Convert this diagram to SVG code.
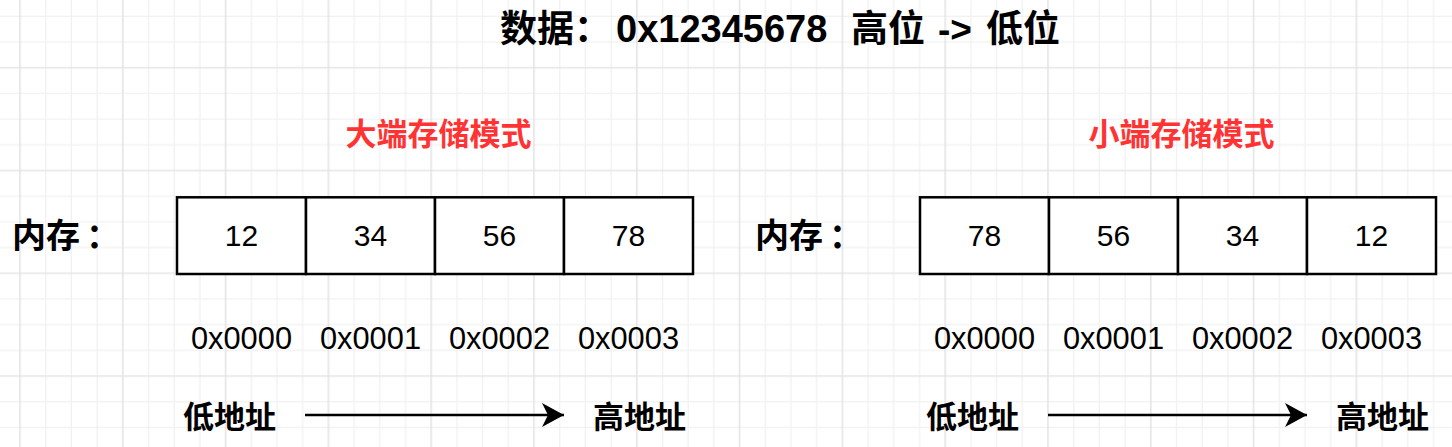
<svg xmlns="http://www.w3.org/2000/svg" width="1452" height="447" viewBox="0 0 1452 447">
<defs>
<style>
.box{fill:#ffffff;stroke:#000000;stroke-width:2.5}
.num{font-family:"Liberation Sans",Arial,sans-serif;font-size:30px;fill:#000;text-anchor:middle}
.addr{font-family:"Liberation Sans",Arial,sans-serif;font-size:30.8px;fill:#000;text-anchor:middle}
.cjk{font-family:"Liberation Sans","Noto Sans CJK SC",sans-serif;font-weight:bold;fill:#000}
.red{font-family:"Liberation Sans","Noto Sans CJK SC",sans-serif;font-weight:bold;font-size:31px;fill:#FF3333;text-anchor:middle}
.arrow{stroke:#000;stroke-width:2.5;fill:none}
</style>
<pattern id="grid" x="7.15" y="54.85" width="102.8" height="102.8" patternUnits="userSpaceOnUse">
<path d="M38.55 0V102.8M64.25 0V102.8M89.95 0V102.8M0 38.55H102.8M0 64.25H102.8M0 89.95H102.8" stroke="#f1f1f1" stroke-width="1.3" fill="none"/>
<path d="M12.85 0V102.8M0 12.85H102.8" stroke="#e1e1e1" stroke-width="1.4" fill="none"/>
</pattern>
<marker id="classic" markerUnits="userSpaceOnUse" markerWidth="24" markerHeight="26" viewBox="0 0 24 26" refX="23" refY="13" orient="auto">
<path d="M23 13L1 1L7 13L1 25Z" fill="#000"/>
</marker>
</defs>
<rect width="1452" height="447" fill="#ffffff"/>
<rect width="1452" height="447" fill="url(#grid)"/>

<g id="title">
<text class="cjk" font-size="37" y="41.5"><tspan x="500">数据：</tspan><tspan x="616" font-size="38">0x12345678</tspan><tspan x="851">高位</tspan><tspan x="938">-&gt;</tspan><tspan x="986">低位</tspan></text>
</g>

<g id="big-endian-label"><text class="red" x="438.5" y="145">大端存储模式</text></g>
<g id="little-endian-label"><text class="red" x="1181.5" y="145">小端存储模式</text></g>

<g id="mem-left"><text class="cjk" font-size="34" x="12" y="247.5">内存<tspan x="86">：</tspan></text></g>
<g id="mem-right"><text class="cjk" font-size="34" x="755" y="247.5">内存<tspan x="829">：</tspan></text></g>

<g id="big-cell-0"><rect class="box" x="177" y="197.3" width="129" height="76.7"/><text class="num" x="241.5" y="245.7">12</text></g>
<g id="big-cell-1"><rect class="box" x="306" y="197.3" width="129" height="76.7"/><text class="num" x="370.5" y="245.7">34</text></g>
<g id="big-cell-2"><rect class="box" x="435" y="197.3" width="129" height="76.7"/><text class="num" x="499.5" y="245.7">56</text></g>
<g id="big-cell-3"><rect class="box" x="564" y="197.3" width="129" height="76.7"/><text class="num" x="628.5" y="245.7">78</text></g>

<g id="little-cell-0"><rect class="box" x="920" y="197.3" width="129" height="76.7"/><text class="num" x="984.5" y="245.7">78</text></g>
<g id="little-cell-1"><rect class="box" x="1049" y="197.3" width="129" height="76.7"/><text class="num" x="1113.5" y="245.7">56</text></g>
<g id="little-cell-2"><rect class="box" x="1178" y="197.3" width="129" height="76.7"/><text class="num" x="1242.5" y="245.7">34</text></g>
<g id="little-cell-3"><rect class="box" x="1307" y="197.3" width="129" height="76.7"/><text class="num" x="1371.5" y="245.7">12</text></g>

<g id="big-addr-0"><text class="addr" x="241.5" y="349">0x0000</text></g>
<g id="big-addr-1"><text class="addr" x="370.5" y="349">0x0001</text></g>
<g id="big-addr-2"><text class="addr" x="499.5" y="349">0x0002</text></g>
<g id="big-addr-3"><text class="addr" x="628.5" y="349">0x0003</text></g>
<g id="little-addr-0"><text class="addr" x="984.5" y="349">0x0000</text></g>
<g id="little-addr-1"><text class="addr" x="1113.5" y="349">0x0001</text></g>
<g id="little-addr-2"><text class="addr" x="1242.5" y="349">0x0002</text></g>
<g id="little-addr-3"><text class="addr" x="1371.5" y="349">0x0003</text></g>

<g id="big-low"><text class="cjk" font-size="31" x="183" y="428">低地址</text></g>
<g id="big-high"><text class="cjk" font-size="31" x="593" y="428">高地址</text></g>
<g id="little-low"><text class="cjk" font-size="31" x="926" y="428">低地址</text></g>
<g id="little-high"><text class="cjk" font-size="31" x="1336" y="428">高地址</text></g>

<g id="connectors">
<path class="arrow" d="M305 415H564" marker-end="url(#classic)"/>
<path class="arrow" d="M1048 415H1307" marker-end="url(#classic)"/>
</g>
</svg>
